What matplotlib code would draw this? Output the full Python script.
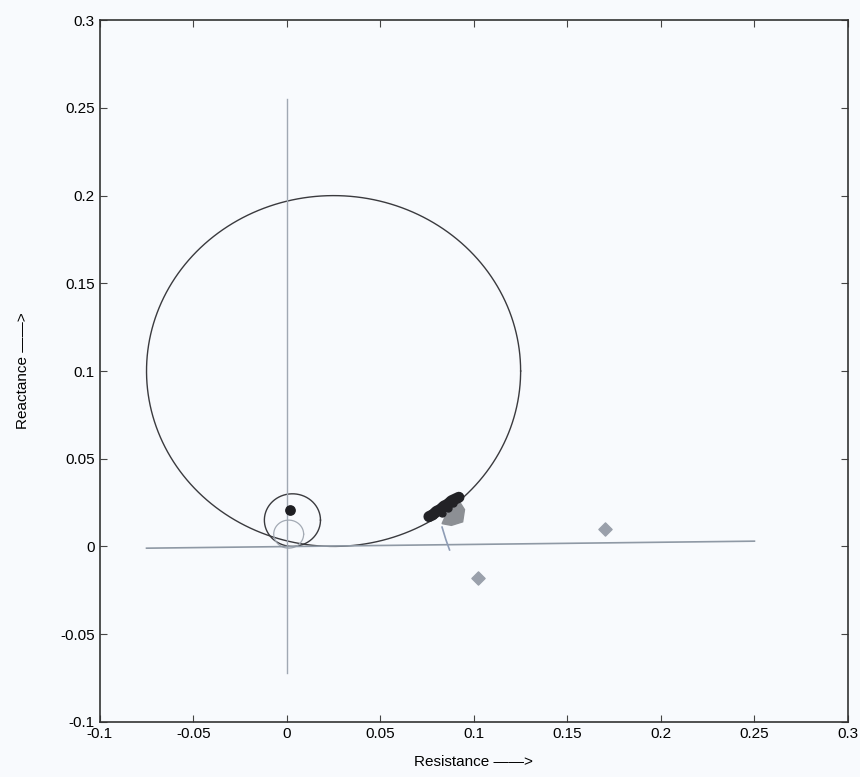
import numpy as np
import matplotlib.pyplot as plt

plt.rcParams['font.family'] = ['Liberation Sans', 'DejaVu Sans']

# big circle (centre x, centre y, radius)
big_circle = [0.025, 0.100, 0.100]
# small circle around origin
small_circle = [0.003, 0.015, 0.015]
inner_circle = [0.001, 0.007, 0.008]

# reference lines
vline_x = [0.0, 0.0]
vline_y = [0.255, -0.072]
hline_x = [-0.075, 0.25]
hline_y = [-0.001, 0.003]

# dark cluster of points near the big circle
cluster_x = [0.076, 0.078, 0.080, 0.082, 0.084, 0.086, 0.088, 0.090, 0.092, 0.083, 0.086, 0.089]
cluster_y = [0.017, 0.018, 0.020, 0.021, 0.023, 0.024, 0.026, 0.027, 0.028, 0.019, 0.022, 0.025]
grey_x = [0.083, 0.088, 0.094, 0.095, 0.092, 0.086]
grey_y = [0.013, 0.012, 0.014, 0.021, 0.026, 0.020]

# trail from cluster down to axis
trail_x = [0.083, 0.085, 0.087]
trail_y = [0.011, 0.004, -0.002]

# isolated points
dot_x = [0.0016]
dot_y = [0.021]
diamond_x = [0.102, 0.170]
diamond_y = [-0.018, 0.010]

fig = plt.figure(figsize=(8.6, 7.77), dpi=100)
fig.patch.set_facecolor('#f8fafd')
ax = fig.add_axes([0.116, 0.071, 0.870, 0.903])
ax.set_facecolor('#f8fafd')

t = np.linspace(0, 2 * np.pi, 400)
for (cx, cy, r), col, lw in [(big_circle, '#3a3a3e', 1.0),
                             (small_circle, '#3a3a3e', 1.0),
                             (inner_circle, '#a3aab4', 0.9)]:
    ax.plot(cx + r * np.cos(t), cy + r * np.sin(t), color=col, linewidth=lw)

ax.plot(vline_x, vline_y, color='#a0a8b3', linewidth=1.0)
ax.plot(hline_x, hline_y, color='#8f99a5', linewidth=1.2)

ax.plot(trail_x, trail_y, color='#8e9cb5', linewidth=1.2)
ax.fill(grey_x, grey_y, color='#8c8f94', zorder=3)
ax.plot(cluster_x[:9], cluster_y[:9], color='#222226', linewidth=8, solid_capstyle='round', zorder=4)
ax.scatter(cluster_x, cluster_y, s=25, color='#222226', zorder=4)
ax.scatter(dot_x, dot_y, s=45, color='#1e1e22', marker='o', zorder=5)
ax.scatter(diamond_x, diamond_y, s=45, color='#9aa0ab', marker='D', zorder=5)

ax.set_xlim(-0.1, 0.3)
ax.set_ylim(-0.1, 0.3)
ax.set_xticks([-0.1, -0.05, 0, 0.05, 0.1, 0.15, 0.2, 0.25, 0.3])
ax.set_xticklabels(['-0.1', '-0.05', '0', '0.05', '0.1', '0.15', '0.2', '0.25', '0.3'])
ax.set_yticks([-0.1, -0.05, 0, 0.05, 0.1, 0.15, 0.2, 0.25, 0.3])
ax.set_yticklabels(['-0.1', '-0.05', '0', '0.05', '0.1', '0.15', '0.2', '0.25', '0.3'])
ax.tick_params(direction='in', top=True, right=True, length=5, labelsize=11, color='#444444')
for s in ax.spines.values():
    s.set_color('#333333')
    s.set_linewidth(1.2)

ax.set_xlabel('Resistance ——>', fontsize=11, labelpad=10)
ax.set_ylabel('Reactance ——>', fontsize=11, labelpad=22)

plt.savefig('out.png', dpi=100, facecolor=fig.get_facecolor())
